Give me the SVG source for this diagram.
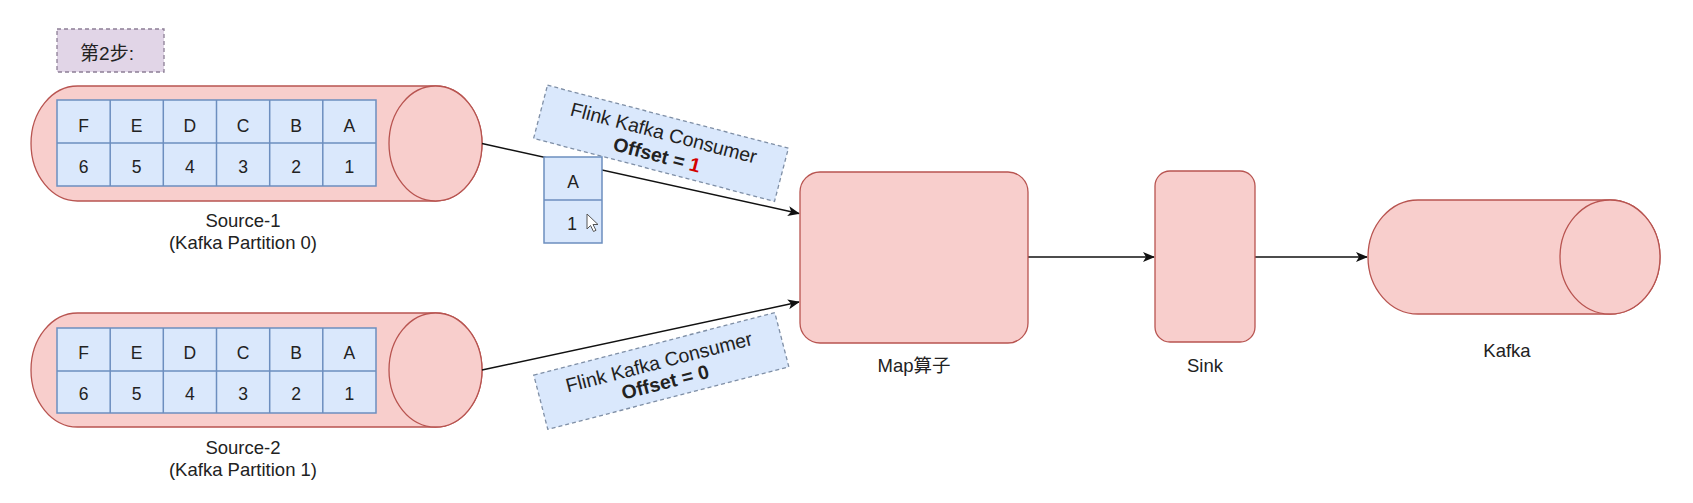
<svg xmlns="http://www.w3.org/2000/svg" width="1693" height="503" viewBox="0 0 1693 503">
<defs>
<style>
.cyl{fill:#f8cecc;stroke:#b85450;stroke-width:1.3}
.box{fill:#f8cecc;stroke:#b85450;stroke-width:1.3}
.cell{fill:#dae8fc;stroke:#6c8ebf;stroke-width:1.5}
.t{font-family:"Liberation Sans","Noto Sans CJK SC",sans-serif;fill:#222;text-anchor:middle}
.tc{font-size:17.5px}
.tl{font-size:18.5px}
.lab{fill:#dae8fc;stroke:#7f8fa6;stroke-width:1.3;stroke-dasharray:4 3}
.edge{fill:none;stroke:#111;stroke-width:1.5}
</style>
<marker id="arr" markerWidth="12" markerHeight="10" refX="11" refY="5" orient="auto" markerUnits="userSpaceOnUse">
<path d="M0,0 L12,5 L0,10 L3,5 Z" fill="#111"/>
</marker>
</defs>
<rect width="1693" height="503" fill="#ffffff"/>

<g id="step">
<rect x="57" y="29" width="107" height="43" fill="#e1d5e7" stroke="#8d7f96" stroke-width="1.3" stroke-dasharray="4 3"/>
<text class="t" x="107" y="60" style="font-size:19px">第2步:</text>
</g>

<g id="source1">
<path class="cyl" d="M77.5,86 L435.5,86 A46.5,57.5 0 0 1 435.5,201 L77.5,201 A46.5,57.5 0 0 1 77.5,86 Z"/>
<ellipse class="cyl" cx="435.5" cy="143.5" rx="46.5" ry="57.5"/>
<rect class="cell" x="57" y="100" width="319" height="86"/>
<path class="cell" d="M57,143 H376 M110.2,100 V186 M163.3,100 V186 M216.5,100 V186 M269.7,100 V186 M322.8,100 V186" fill="none"/>
<g class="t tc">
<text x="83.6" y="131.5">F</text><text x="136.7" y="131.5">E</text><text x="189.9" y="131.5">D</text><text x="243.1" y="131.5">C</text><text x="296.2" y="131.5">B</text><text x="349.4" y="131.5">A</text>
<text x="83.6" y="173">6</text><text x="136.7" y="173">5</text><text x="189.9" y="173">4</text><text x="243.1" y="173">3</text><text x="296.2" y="173">2</text><text x="349.4" y="173">1</text>
</g>
<text class="t tl" x="243" y="227">Source-1</text>
<text class="t tl" x="243" y="249">(Kafka Partition 0)</text>
</g>

<g id="source2">
<path class="cyl" d="M77.5,313 L435.5,313 A46.5,57 0 0 1 435.5,427 L77.5,427 A46.5,57 0 0 1 77.5,313 Z"/>
<ellipse class="cyl" cx="435.5" cy="370" rx="46.5" ry="57"/>
<rect class="cell" x="57" y="328" width="319" height="85"/>
<path class="cell" d="M57,371 H376 M110.2,328 V413 M163.3,328 V413 M216.5,328 V413 M269.7,328 V413 M322.8,328 V413" fill="none"/>
<g class="t tc">
<text x="83.6" y="358.5">F</text><text x="136.7" y="358.5">E</text><text x="189.9" y="358.5">D</text><text x="243.1" y="358.5">C</text><text x="296.2" y="358.5">B</text><text x="349.4" y="358.5">A</text>
<text x="83.6" y="400">6</text><text x="136.7" y="400">5</text><text x="189.9" y="400">4</text><text x="243.1" y="400">3</text><text x="296.2" y="400">2</text><text x="349.4" y="400">1</text>
</g>
<text class="t tl" x="243" y="454">Source-2</text>
<text class="t tl" x="243" y="476">(Kafka Partition 1)</text>
</g>

<g id="connectors">
<line class="edge" x1="482" y1="143.5" x2="799" y2="213.5" marker-end="url(#arr)"/>
<line class="edge" x1="482" y1="370" x2="799" y2="302" marker-end="url(#arr)"/>
<line class="edge" x1="1028" y1="257" x2="1154" y2="257" marker-end="url(#arr)"/>
<line class="edge" x1="1255" y1="257" x2="1367" y2="257" marker-end="url(#arr)"/>
</g>

<g id="label1" transform="translate(661,143.3) rotate(14.65)">
<rect class="lab" x="-124.5" y="-27.5" width="249" height="55"/>
<text class="t" x="0" y="-4" style="font-size:19.5px">Flink Kafka Consumer</text>
<text class="t" x="-1" y="19" style="font-size:19.5px;font-weight:bold">Offset = <tspan fill="#d40000">1</tspan></text>
</g>

<g id="label2" transform="translate(661.3,371) rotate(-14.5)">
<rect class="lab" x="-124.5" y="-28" width="249" height="56"/>
<text class="t" x="0" y="-2.5" style="font-size:19.5px">Flink Kafka Consumer</text>
<text class="t" x="1" y="18.5" style="font-size:19.5px;font-weight:bold">Offset = 0</text>
</g>

<g id="record">
<rect class="cell" x="544" y="157" width="58" height="86"/>
<line class="cell" x1="544" y1="200" x2="602" y2="200"/>
<text class="t tc" x="573" y="188">A</text>
<text class="t tc" x="572" y="230">1</text>
<path d="M587,214 L587,229 L590.5,225.5 L593.5,231.5 L596,230.3 L593,224.5 L598,224.5 Z" fill="#ffffff" stroke="#555" stroke-width="1"/>
</g>

<g id="map">
<rect class="box" x="800" y="172" width="228" height="171" rx="20" ry="20"/>
<text class="t tl" x="914" y="372">Map算子</text>
</g>

<g id="sink">
<rect class="box" x="1155" y="171" width="100" height="171" rx="15" ry="15"/>
<text class="t tl" x="1205" y="372">Sink</text>
</g>

<g id="kafka">
<path class="cyl" d="M1418,200 L1610,200 A50,57 0 0 1 1610,314 L1418,314 A50,57 0 0 1 1418,200 Z"/>
<ellipse class="cyl" cx="1610" cy="257" rx="50" ry="57"/>
<text class="t tl" x="1507" y="357">Kafka</text>
</g>
</svg>
